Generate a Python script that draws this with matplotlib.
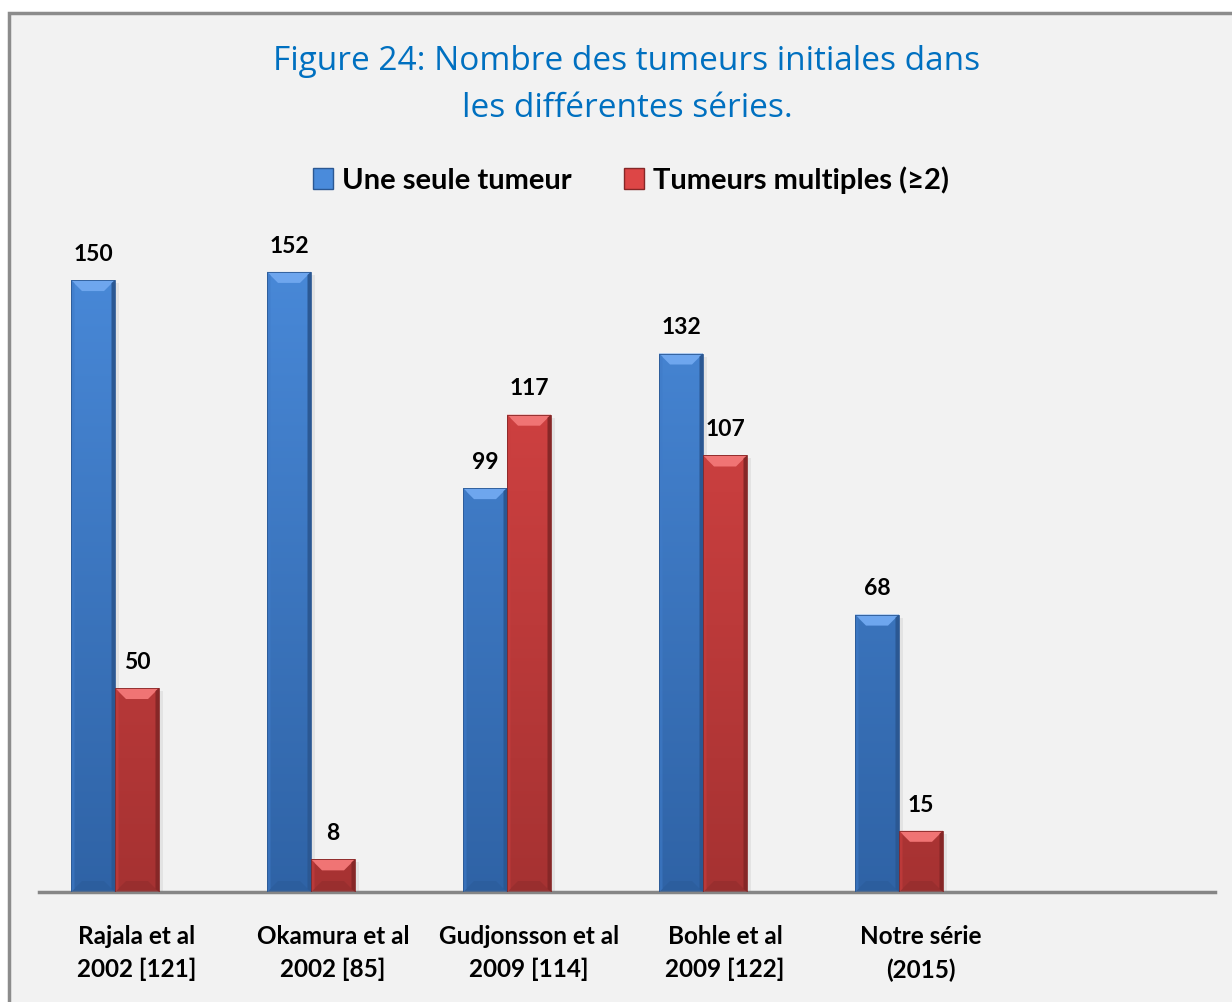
import numpy as np
import matplotlib.pyplot as plt
from matplotlib.patches import Polygon, Rectangle, Patch
from matplotlib.colors import LinearSegmentedColormap

# data
series = ["Rajala et al\n2002 [121]", "Okamura et al\n2002 [85]",
          "Gudjonsson et al\n2009 [114]", "Bohle et al\n2009 [122]",
          "Notre série\n(2015)", ""]
single = [150, 152, 99, 132, 68]
multiple = [50, 8, 117, 107, 15]
legend_labels = ["Une seule tumeur", "Tumeurs multiples (≥2)"]

BG = "#f2f2f2"
BLUE = dict(top="#4a8bdb", bot="#2f63a6", bev="#6ea6ee", side_l="#3f7bc8",
            side_r="#2b5893", base="#2a5a98")
RED = dict(top="#dd4646", bot="#a63232", bev="#f07474", side_l="#c93e3e",
           side_r="#862727", base="#8f2b2b")

W, H = 1232, 1002
fig = plt.figure(figsize=(W / 100, H / 100), dpi=100, facecolor="white")
fig.patches.append(Rectangle((9 / W, -0.01), 1.05, (H - 13) / H + 0.01,
                             transform=fig.transFigure, fc=BG, ec="#8c8c8c",
                             lw=2.5, zorder=-10))

ax_l, ax_r, ax_b, ax_t = 39, 1215, 892, 225
YMAX = 163.5
ax = fig.add_axes([ax_l / W, (H - ax_b) / H, (ax_r - ax_l) / W, (ax_b - ax_t) / H])
ax.set_facecolor("none")
ax.set_xlim(-0.5, 5.5)
ax.set_ylim(0, YMAX)
px_x = (ax_r - ax_l) / 6.0
px_y = (ax_b - ax_t) / YMAX

w = 44 / px_x
x = np.arange(len(single))


def fancy(bars, c):
    bx, by = 11 / px_x, 11 / px_y
    sx = 3.5 / px_x
    for b in bars:
        x0, y0 = b.get_x(), b.get_y()
        bw, bh = b.get_width(), b.get_height()
        b.set_visible(False)
        # soft shadow
        ax.add_patch(Rectangle((x0 + bw, 0), 4 / px_x, bh - 3 / px_y,
                               fc="#000000", alpha=0.06, lw=0, zorder=1))
        cmap = LinearSegmentedColormap.from_list("g", [c["bot"], c["top"]])
        grad = np.linspace(0, 1, 256).reshape(-1, 1)
        im = ax.imshow(grad, extent=(x0, x0 + bw, 0, YMAX), origin="lower",
                       cmap=cmap, aspect="auto", zorder=2)
        im.set_clip_path(Rectangle((x0, y0), bw, bh, transform=ax.transData))
        byy = min(by, bh / 2)
        ax.add_patch(Polygon([(x0, bh), (x0 + bw, bh), (x0 + bw - bx, bh - byy),
                              (x0 + bx, bh - byy)], closed=True, fc=c["bev"],
                             lw=0, zorder=3))
        ax.add_patch(Polygon([(x0, 0), (x0 + bw, 0), (x0 + bw - bx, byy),
                              (x0 + bx, byy)], closed=True, fc=c["base"],
                             alpha=0.55, lw=0, zorder=3))
        e = min(3 / px_y, bh)
        ax.add_patch(Polygon([(x0, 0), (x0 + sx, e), (x0 + sx, bh - e), (x0, bh)],
                             closed=True, fc=c["side_l"], alpha=0.6, lw=0, zorder=3))
        ax.add_patch(Polygon([(x0 + bw, 0), (x0 + bw - sx, e),
                              (x0 + bw - sx, bh - e), (x0 + bw, bh)],
                             closed=True, fc=c["side_r"], lw=0, zorder=3))
        ax.add_patch(Rectangle((x0, 0), bw, bh, fc="none", ec=c["side_r"],
                               lw=0.6, zorder=4))
        ax.annotate(f"{int(bh)}", (x0 + bw / 2, bh), xytext=(0, 11),
                    textcoords="offset points", ha="center", va="bottom",
                    fontsize=16.5, fontweight="bold", family="Lato", color="black")


# three-slot clusters (third series empty): blue, red, blank
b1 = ax.bar(x - 1.5 * w, single, w, align="edge", color=BLUE["top"])
b2 = ax.bar(x - 0.5 * w, multiple, w, align="edge", color=RED["top"])
fancy(b1, BLUE)
fancy(b2, RED)

for s in ["top", "right", "left"]:
    ax.spines[s].set_visible(False)
ax.spines["bottom"].set_color("#868686")
ax.spines["bottom"].set_linewidth(2.5)
ax.set_yticks([])
ax.set_xticks(np.arange(len(series)))
ax.set_xticklabels(series, fontsize=17.5, fontweight="bold", family="Lato",
                   linespacing=1.5)
ax.tick_params(axis="x", length=0, pad=24)

fig.text(627 / W, 1 - 85 / H, "Figure 24: Nombre des tumeurs initiales dans\nles différentes séries.",
         ha="center", va="center", fontsize=24, color="#0070c0", family="Open Sans",
         linespacing=1.58)

handles = [Patch(fc=BLUE["top"], ec=BLUE["side_r"]), Patch(fc=RED["top"], ec=RED["side_r"])]
fig.legend(handles, legend_labels, loc="center", bbox_to_anchor=(631 / W, 1 - 180 / H),
           ncol=2, frameon=False, prop=dict(family="Lato", weight="bold", size=21),
           handlelength=0.7, handleheight=0.7, handletextpad=0.3, columnspacing=1.8)

fig.savefig("out.png", dpi=100, facecolor="white")
